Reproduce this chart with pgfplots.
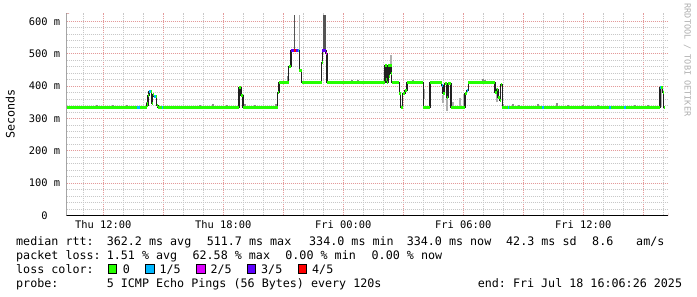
\documentclass[border=0pt]{standalone}
\usepackage{pgfplots}
\pgfplotsset{compat=1.18}
\usepackage{pgfplotstable}
\usepackage{fontspec}
\setmonofont{DejaVu Sans Mono}
\newcommand{\lgf}{\ttfamily\fontsize{11.7bp}{14bp}\selectfont}
\newcommand{\axf}{\ttfamily\fontsize{10.4bp}{12bp}\selectfont}
\newcommand{\wmf}{\ttfamily\fontsize{8.5bp}{10bp}\selectfont}
\definecolor{lossA}{HTML}{26FF00}
\definecolor{lossB}{HTML}{00B8FF}
\definecolor{lossC}{HTML}{DD00FF}
\definecolor{lossD}{HTML}{5E00FF}
\definecolor{lossE}{HTML}{FF0000}
\definecolor{gridminor}{HTML}{C8C8C8}
\definecolor{gridmajor}{HTML}{E49A9A}
\definecolor{arrowred}{HTML}{A01E1E}
\definecolor{smokedark}{HTML}{555555}
\definecolor{smokemid}{HTML}{8C8C8C}
\definecolor{smokelight}{HTML}{AFAFAF}
\definecolor{medline}{HTML}{202020}

\pgfplotstableread{
h v
10.17 334
13.685 334
14.17 347
14.2 340
14.235 371
14.285 383
14.36 383
14.41 345
14.46 374
14.51 368
14.61 368
14.66 340
14.735 334
18.785 396
18.885 371
18.985 334
20.72 380
20.785 412
21.26 460
21.385 510
21.8 448
21.92 412
22.92 474
22.95 510
23.135 501
23.185 411
26.085 464
26.12 420
26.15 464
26.17 411
26.235 464
26.27 430
26.3 464
26.36 440
26.39 464
26.42 411
26.8 377
26.86 335
26.97 377
27.085 386
27.185 412
28.0 335
28.335 412
28.92 402
28.985 377
29.06 408
29.16 366
29.235 408
29.385 335
30.085 377
30.17 387
30.25 412
31.585 381
31.66 389
31.735 366
31.81 356
31.86 404
31.95 334
39.835 396
39.96 380
40.025 334
40.085 334
}\median

\begin{document}
\begin{tikzpicture}
\path[fill=white, use as bounding box] (0bp,0bp) rectangle (697bp,297bp);
\begin{axis}[
  at={(66.7bp,81.5bp)}, anchor=south west, scale only axis,
  width=601.6bp, height=202.2bp,
  xmin=10.17, xmax=40.25, ymin=0, ymax=625,
  axis line style={draw=none},
  xtick={12,15,...,39},
  xticklabels={Thu 12:00,,Thu 18:00,,Fri 00:00,,Fri 06:00,,Fri 12:00,},
  minor xtick={11,13,14,16,17,19,20,22,23,25,26,28,29,31,32,34,35,37,38,40},
  ytick={0,100,...,600},
  yticklabels={0\phantom{\ m},100 m,200 m,300 m,400 m,500 m,600 m},
  minor ytick={20,40,60,80,120,140,160,180,220,240,260,280,320,340,360,380,420,440,460,480,520,540,560,580},
  grid=both,
  minor grid style={gridminor, line width=0.8bp, dash pattern=on 1bp off 1bp},
  major grid style={gridmajor, line width=0.8bp, dash pattern=on 1bp off 1bp},
  major tick length=0pt, minor tick length=0pt,
  tick label style={font=\axf, inner sep=0pt},
  xticklabel style={anchor=base, yshift=-12.8bp},
  yticklabel style={anchor=east, xshift=-6.4bp},
  unbounded coords=jump,
]
% smoke
\addplot[smokemid, line width=2bp, forget plot] coordinates {
(21.235,412) (21.235,430) (21.235,nan)
(11.67,334) (11.67,343) (11.67,nan)
(12.485,334) (12.485,342) (12.485,nan)
(13.185,334) (13.185,343) (13.185,nan)
(14.2,334) (14.2,352) (14.2,nan)
(16.835,334) (16.835,343) (16.835,nan)
(17.485,334) (17.485,344) (17.485,nan)
(18.185,334) (18.185,343) (18.185,nan)
(19.085,334) (19.085,344) (19.085,nan)
(19.585,334) (19.585,342) (19.585,nan)
(20.635,334) (20.635,345) (20.635,nan)
(24.42,412) (24.42,418) (24.42,nan)
(24.75,412) (24.75,418) (24.75,nan)
(25.085,412) (25.085,417) (25.085,nan)
(27.47,412) (27.47,420) (27.47,nan)
(30.985,412) (30.985,423) (30.985,nan)
(31.085,412) (31.085,420) (31.085,nan)
(32.0,334) (32.0,344) (32.0,nan)
(32.47,334) (32.47,344) (32.47,nan)
(32.8,334) (32.8,342) (32.8,nan)
(33.72,334) (33.72,344) (33.72,nan)
(34.66,334) (34.66,347) (34.66,nan)
(35.235,334) (35.235,342) (35.235,nan)
(35.985,334) (35.985,343) (35.985,nan)
(36.735,334) (36.735,342) (36.735,nan)
(38.585,334) (38.585,343) (38.585,nan)
(39.235,334) (39.235,342) (39.235,nan)
};
\addplot[smokelight, line width=2bp, forget plot] coordinates {
(28.035,360) (28.035,390) (28.035,nan)
(29.0,347) (29.0,371) (29.0,nan)
(29.2,324) (29.2,377) (29.2,nan)
(29.5,335) (29.5,350) (29.5,nan)
(29.85,335) (29.85,362) (29.85,nan)
(30.05,335) (30.05,377) (30.05,nan)
(31.7,350) (31.7,395) (31.7,nan)
(39.9,334) (39.9,396) (39.9,nan)
};
\addplot[smokelight, line width=1.3bp, forget plot] coordinates {
(21.8,448) (21.8,619) (21.8,nan)
(26.385,464) (26.385,496) (26.385,nan)
};
\addplot[smokedark, line width=1.3bp, forget plot] coordinates {(21.55,510) (21.55,619)};
\addplot[smokedark, line width=3bp, forget plot] coordinates {(23.07,505) (23.07,619)};
% median
\addplot[medline, line width=1.1bp, const plot] table[x=h, y=v] {\median};
\addplot[lossA, line width=3bp, jump mark left] table[x=h, y=v] {\median};
% loss colour overlays
\addplot[lossB, line width=3bp] coordinates {
(13.685,334) (13.835,334) (13.835,nan)
(14.285,383) (14.36,383) (14.36,nan)
(14.51,368) (14.61,368) (14.61,nan)
(14.92,334) (14.97,334) (14.97,nan)
(21.75,510) (21.8,510) (21.8,nan)
(28.92,402) (28.985,402) (28.985,nan)
(30.17,387) (30.25,387) (30.25,nan)
(32.22,334) (32.29,334) (32.29,nan)
(33.95,334) (34.02,334) (34.02,nan)
(37.30,334) (37.37,334) (37.37,nan)
(38.05,334) (38.12,334) (38.12,nan)
(39.835,396) (39.9,396) (39.9,nan)
};
\addplot[lossD, line width=3bp] coordinates {
(21.385,510) (21.55,510) (21.55,nan)
(21.635,510) (21.75,510) (21.75,nan)
(22.95,510) (23.135,510) (23.135,nan)
};
\addplot[lossE, line width=3bp] coordinates {(21.55,510) (21.635,510)};
\addplot[lossC, line width=3bp] coordinates {(23.135,501) (23.185,501)};
% axes
\draw[black, line width=1bp] ([xshift=-4bp]rel axis cs:0,0) -- (rel axis cs:1,0);
\draw[black, line width=1bp] ([yshift=-3bp]rel axis cs:0,0) -- (rel axis cs:0,1);
\fill[arrowred] ([yshift=-2.5bp]rel axis cs:1,0) -- ([xshift=5bp]rel axis cs:1,0) -- ([yshift=2.5bp]rel axis cs:1,0) -- cycle;
\fill[arrowred] ([xshift=-2.5bp]rel axis cs:0,1) -- ([yshift=4bp]rel axis cs:0,1) -- ([xshift=2.5bp]rel axis cs:0,1) -- cycle;
\end{axis}
% y label and watermark
\node[rotate=90, inner sep=0pt, font=\lgf] at (10.2bp,183bp) {Seconds};
\node[rotate=-90, inner sep=0pt, font=\wmf, text=smokelight] at (687.5bp,237bp) {RRDTOOL / TOBI OETIKER};
% legend text
\begin{scope}[every node/.style={anchor=base west, inner sep=0pt, font=\lgf}]
\node at (16bp,51.3bp) {median rtt:};
\node at (106.6bp,51.3bp) {362.2 ms avg};
\node at (206.6bp,51.3bp) {511.7 ms max};
\node at (309bp,51.3bp) {334.0 ms min};
\node at (406.6bp,51.3bp) {334.0 ms now};
\node at (506bp,51.3bp) {42.3 ms sd};
\node at (592bp,51.3bp) {8.6};
\node at (636bp,51.3bp) {am/s};
\node at (16bp,37.5bp) {packet loss:};
\node at (106.6bp,37.5bp) {1.51 \% avg};
\node at (192.4bp,37.5bp) {62.58 \% max};
\node at (285.2bp,37.5bp) {0.00 \% min};
\node at (371.5bp,37.5bp) {0.00 \% now};
\node at (16bp,23.7bp) {loss color:};
\node at (122.6bp,23.7bp) {0};
\node at (159.3bp,23.7bp) {1/5};
\node at (210.3bp,23.7bp) {2/5};
\node at (261bp,23.7bp) {3/5};
\node at (312bp,23.7bp) {4/5};
\node at (16bp,9.8bp) {probe:};
\node at (106.6bp,9.8bp) {5 ICMP Echo Pings (56 Bytes) every 120s};
\node at (477.6bp,9.8bp) {end: Fri Jul 18 16:06:26 2025};
\end{scope}
\filldraw[fill=lossA, draw=black, line width=0.8bp] (108.3bp,24bp) rectangle (116.8bp,32.5bp);
\filldraw[fill=lossB, draw=black, line width=0.8bp] (145.5bp,24bp) rectangle (154bp,32.5bp);
\filldraw[fill=lossC, draw=black, line width=0.8bp] (196.5bp,24bp) rectangle (205bp,32.5bp);
\filldraw[fill=lossD, draw=black, line width=0.8bp] (247.2bp,24bp) rectangle (255.7bp,32.5bp);
\filldraw[fill=lossE, draw=black, line width=0.8bp] (298.2bp,24bp) rectangle (306.7bp,32.5bp);
\end{tikzpicture}
\end{document}
